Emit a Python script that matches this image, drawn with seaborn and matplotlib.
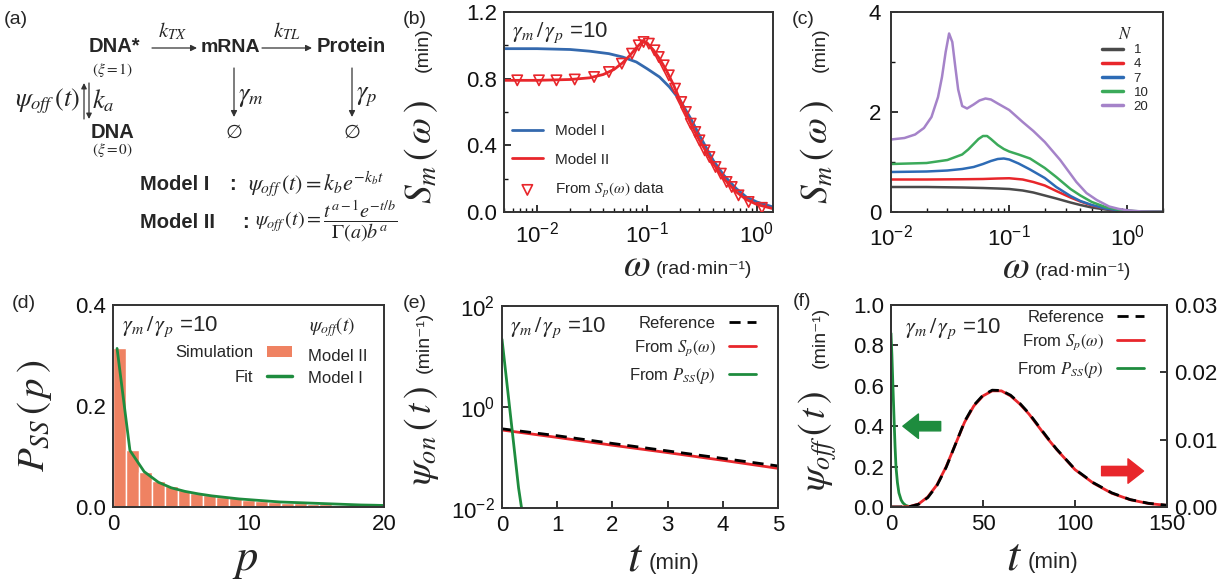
import numpy as np
import matplotlib
matplotlib.use("Agg")
import matplotlib.pyplot as plt
import matplotlib.patches as mpatches
import matplotlib.lines as mlines
from matplotlib.ticker import MultipleLocator, FixedLocator, NullLocator, LogLocator, NullFormatter, FormatStrFormatter
import seaborn as sns

sns.set_theme(style="ticks")
plt.rcParams["font.family"] = ["Liberation Sans", "DejaVu Sans"]
plt.rcParams["mathtext.fontset"] = "stix"

W, H = 1227, 588

# ---------------- data ----------------
# (b) S_m(omega), gamma_m/gamma_p = 10
w_model1 = [0.005, 0.01, 0.02, 0.03, 0.045, 0.06, 0.08, 0.1, 0.13, 0.16, 0.2, 0.25, 0.3, 0.4, 0.5, 0.65, 0.8, 1.0, 1.4]
s_model1 = [0.98, 0.98, 0.975, 0.965, 0.95, 0.93, 0.90, 0.86, 0.81, 0.75, 0.67, 0.56, 0.46, 0.31, 0.22, 0.14, 0.09, 0.06, 0.03]
w_model2 = [0.005, 0.01, 0.02, 0.03, 0.04, 0.05, 0.06, 0.07, 0.08, 0.09, 0.1, 0.115, 0.13, 0.15, 0.175, 0.2,
            0.25, 0.3, 0.4, 0.5, 0.65, 0.8, 1.0, 1.4]
s_model2 = [0.79, 0.79, 0.795, 0.805, 0.825, 0.855, 0.895, 0.94, 0.985, 1.02, 1.015, 0.97, 0.92, 0.85, 0.76, 0.67,
            0.53, 0.43, 0.29, 0.20, 0.12, 0.075, 0.045, 0.02]
w_data = [0.0066, 0.0104, 0.015, 0.022, 0.033, 0.045, 0.059, 0.073, 0.084, 0.093, 0.104, 0.117, 0.128, 0.142,
          0.158, 0.18, 0.205, 0.226, 0.25, 0.275, 0.30, 0.335, 0.37, 0.42, 0.47, 0.53, 0.59, 0.68, 0.84, 1.11]
s_data = [0.79, 0.79, 0.79, 0.795, 0.81, 0.84, 0.89, 0.95, 1.0, 1.02, 1.01, 0.97, 0.93, 0.88, 0.82, 0.74, 0.66,
          0.60, 0.53, 0.48, 0.43, 0.37, 0.33, 0.27, 0.23, 0.18, 0.15, 0.10, 0.06, 0.025]

# (c) S_m(omega) for several N
N_labels = ["1", "4", "7", "10", "20"]
w_n1 = [0.01, 0.02, 0.04, 0.06, 0.08, 0.1, 0.13, 0.16, 0.2, 0.25, 0.33, 0.4, 0.5, 0.65, 0.8, 1.0, 1.4, 2.0]
s_n1 = [0.50, 0.50, 0.49, 0.48, 0.47, 0.46, 0.43, 0.39, 0.33, 0.27, 0.19, 0.14, 0.09, 0.05, 0.03, 0.015, 0.005, 0.002]
s_n4 = [0.65, 0.65, 0.655, 0.66, 0.67, 0.675, 0.65, 0.60, 0.53, 0.42, 0.29, 0.21, 0.13, 0.07, 0.04, 0.02, 0.007, 0.002]
w_n7 = [0.01, 0.02, 0.03, 0.04, 0.05, 0.06, 0.07, 0.08, 0.09, 0.1, 0.12, 0.15, 0.2, 0.25, 0.33, 0.4, 0.5, 0.65,
        0.8, 1.0, 1.4, 2.0]
s_n7 = [0.80, 0.81, 0.83, 0.86, 0.90, 0.96, 1.02, 1.06, 1.07, 1.05, 0.97, 0.85, 0.68, 0.5, 0.32, 0.22, 0.14, 0.07,
        0.04, 0.02, 0.006, 0.002]
w_n10 = [0.01, 0.02, 0.03, 0.04, 0.045, 0.05, 0.055, 0.06, 0.065, 0.07, 0.08, 0.09, 0.1, 0.12, 0.15, 0.2, 0.25,
         0.33, 0.4, 0.5, 0.65, 0.8, 1.0, 1.4, 2.0]
s_n10 = [0.96, 0.98, 1.04, 1.15, 1.25, 1.36, 1.46, 1.52, 1.52, 1.46, 1.34, 1.26, 1.21, 1.15, 1.07, 0.88, 0.7,
         0.46, 0.33, 0.2, 0.1, 0.055, 0.025, 0.008, 0.002]
w_n20 = [0.01, 0.013, 0.016, 0.019, 0.022, 0.025, 0.027, 0.029, 0.031, 0.033, 0.035, 0.037, 0.04, 0.044, 0.05,
         0.056, 0.063, 0.07, 0.08, 0.1, 0.13, 0.16, 0.2, 0.27, 0.37, 0.45, 0.55, 0.7, 0.85, 1.0, 1.3, 2.0]
s_n20 = [1.45, 1.48, 1.55, 1.68, 1.9, 2.3, 2.7, 3.2, 3.57, 3.4, 2.9, 2.45, 2.12, 2.07, 2.15, 2.23, 2.27, 2.25,
         2.17, 2.04, 1.8, 1.62, 1.4, 1.04, 0.6, 0.38, 0.24, 0.11, 0.06, 0.035, 0.012, 0.002]

# (d) P_SS(p): simulation histogram and fit
p_sim = list(range(21))
P_sim = [0.314, 0.113, 0.070, 0.052, 0.041, 0.033, 0.027, 0.023, 0.020, 0.017, 0.014, 0.012, 0.010, 0.008,
         0.007, 0.006, 0.005, 0.004, 0.003, 0.003, 0.002]
p_fit = [0.3, 1.25, 2.3, 3.35, 4.3, 5.3, 6.3, 7.3, 8.3, 9.3, 10.3, 11.3, 12.3, 13.3, 14.3, 15.3, 16.3, 17.3,
         18.3, 19.3, 20.0]
P_fit = [0.314, 0.112, 0.070, 0.049, 0.038, 0.031, 0.026, 0.022, 0.019, 0.016, 0.014, 0.012, 0.010, 0.009,
         0.008, 0.007, 0.006, 0.005, 0.004, 0.0035, 0.003]

# (e) psi_on(t)
t_on = [0, 1, 2, 3, 4, 5]
on_ref = [0.37, 0.27, 0.19, 0.135, 0.096, 0.068]
on_sp = [0.35, 0.25, 0.175, 0.125, 0.088, 0.061]
t_on_pss = [0, 0.1, 0.2, 0.3, 0.38]
on_pss = [22, 2.3, 0.24, 0.025, 0.0065]

# (f) psi_off(t)
t_off = [0, 5, 10, 15, 20, 25, 30, 35, 40, 45, 50, 55, 60, 65, 70, 75, 80, 85, 90, 95, 100, 110, 120, 130, 140, 150]
off_ref = [0, 0, 0.00005, 0.0004, 0.0014, 0.0032, 0.0059, 0.0093, 0.0127, 0.0151, 0.0166, 0.01735, 0.0173,
           0.0166, 0.0154, 0.0139, 0.0121, 0.0103, 0.0086, 0.0071, 0.0056, 0.0036, 0.0021, 0.0011, 0.00055, 0.00026]
off_sp = [0, 0, 0.00006, 0.00045, 0.0015, 0.0033, 0.006, 0.0093, 0.0126, 0.015, 0.0165, 0.01725, 0.01725,
          0.0165, 0.0153, 0.0138, 0.012, 0.0102, 0.00855, 0.00705, 0.00555, 0.00354, 0.00204, 0.00108, 0.00051, 0.00024]
t_off_pss = [0, 0.5, 1.0, 1.5, 1.8, 2.2, 2.7, 3.5, 4.3, 5.5, 6.5, 8, 10, 12]
off_pss = [0.86, 0.75, 0.61, 0.48, 0.4, 0.3, 0.2, 0.12, 0.07, 0.035, 0.02, 0.008, 0.002, 0.0]

# colours
BLUE = "#3469AE"
RED = "#E8262B"
GREEN = "#1E8C3E"
SALMON = "#EF8262"
c_colors = ["#4A4A4A", "#E8262B", "#2D6BB5", "#3BAA5A", "#A583C9"]

fig = plt.figure(figsize=(W / 100, H / 100), dpi=100)
fig.patch.set_facecolor("white")


def box(l, t, r, b):
    return [l / W, 1 - b / H, (r - l) / W, (b - t) / H]


def style(ax):
    for sp in ax.spines.values():
        sp.set_linewidth(1.4)
        sp.set_color("#333333")
    ax.tick_params(which="both", direction="in", labelsize=16, colors="#111111", pad=5)
    ax.tick_params(which="major", length=5, width=1.2)
    ax.tick_params(which="minor", length=3, width=1.0)


def ylab(ax, x, yb, big, ys, small, fs=27):
    ax.text(x, yb, big, rotation=90, transform=ax.transAxes, ha="center", va="center", fontsize=fs)
    ax.text(x + 0.01, ys, small, rotation=90, transform=ax.transAxes, ha="center", va="center", fontsize=14)


def xlab(ax, x, y, big, small, fs=28, fs_small=14):
    ax.text(x, y, big, transform=ax.transAxes, ha="right", va="baseline", fontsize=fs)
    ax.text(x + 0.02, y + 0.01, small, transform=ax.transAxes, ha="left", va="baseline", fontsize=fs_small)


ratio = r"$\gamma_m\,/\,\gamma_p$ =10"

# ---------------- (b) ----------------
ax_b = fig.add_axes(box(504, 12, 773, 212))
ax_b.set_xscale("log")
sns.lineplot(x=w_model1, y=s_model1, ax=ax_b, color=BLUE, lw=2, label="Model I")
sns.lineplot(x=w_model2, y=s_model2, ax=ax_b, color=RED, lw=2, label="Model II")
sns.scatterplot(x=w_data, y=s_data, ax=ax_b, marker="v", s=55, color=RED, facecolors="none",
                edgecolor=RED, linewidth=1.2, label=r"From $S_p(\omega)$ data", zorder=3)
ax_b.set_xlim(0.005, 1.4)
ax_b.set_ylim(0, 1.2)
ax_b.yaxis.set_major_locator(MultipleLocator(0.4))
ax_b.yaxis.set_minor_locator(MultipleLocator(0.2))
ax_b.yaxis.set_major_formatter(FormatStrFormatter("%.1f"))
ax_b.xaxis.set_major_locator(LogLocator(base=10))
ax_b.xaxis.set_minor_locator(LogLocator(base=10, subs=np.arange(2, 10)))
ax_b.xaxis.set_minor_formatter(NullFormatter())
style(ax_b)
ax_b.tick_params(axis="x", pad=7)
ax_b.legend(loc="upper left", bbox_to_anchor=(0.03, 0.44), frameon=False, fontsize=11,
            handlelength=2.0, labelspacing=0.95, borderaxespad=0, borderpad=0)
ax_b.text(0.03, 0.895, ratio, transform=ax_b.transAxes, fontsize=16, va="center")
ylab(ax_b, -0.31, 0.30, r"$S_m\,(\,\omega\,)$", 0.81, "(min)")
xlab(ax_b, 0.545, -0.32, r"$\omega$", "(rad·min⁻¹)")

# ---------------- (c) ----------------
ax_c = fig.add_axes(box(891, 12, 1163, 212))
ax_c.set_xscale("log")
c_series = [(w_n1, s_n1), (w_n1, s_n4), (w_n7, s_n7), (w_n10, s_n10), (w_n20, s_n20)]
for (wx, sy), lab, col in zip(c_series, N_labels, c_colors):
    sns.lineplot(x=wx, y=sy, ax=ax_c, color=col, lw=1.8, label=lab)
ax_c.set_xlim(0.01, 2.0)
ax_c.set_ylim(0, 4)
ax_c.yaxis.set_major_locator(MultipleLocator(2))
ax_c.yaxis.set_minor_locator(MultipleLocator(1))
ax_c.xaxis.set_major_locator(LogLocator(base=10))
ax_c.xaxis.set_minor_locator(LogLocator(base=10, subs=np.arange(2, 10)))
ax_c.xaxis.set_minor_formatter(NullFormatter())
style(ax_c)
ax_c.tick_params(axis="x", pad=9)
ax_c.tick_params(axis="y", pad=7)
leg_c = ax_c.legend(loc="upper left", bbox_to_anchor=(0.775, 0.93), frameon=False, fontsize=9.5, title=r"$N$",
                    title_fontsize=12, handlelength=1.6, labelspacing=0.15, borderaxespad=0, borderpad=0)
for ln in leg_c.get_lines():
    ln.set_linewidth(2.5)
ylab(ax_c, -0.27, 0.30, r"$S_m\,(\,\omega\,)$", 0.81, "(min)")
xlab(ax_c, 0.51, -0.33, r"$\omega$", "(rad·min⁻¹)")

# ---------------- (d) ----------------
ax_d = fig.add_axes(box(113, 305, 384, 507))
sns.histplot(x=p_sim, weights=P_sim, bins=21, binrange=(0, 20), ax=ax_d, color=SALMON, alpha=1,
             edgecolor="white", linewidth=1.0)
sns.lineplot(x=p_fit, y=P_fit, ax=ax_d, color=GREEN, lw=2)
ax_d.set_xlabel("")
ax_d.set_ylabel("")
ax_d.set_xlim(0, 20)
ax_d.set_ylim(0, 0.4)
ax_d.xaxis.set_major_locator(MultipleLocator(10))
ax_d.yaxis.set_major_locator(MultipleLocator(0.2))
ax_d.yaxis.set_major_formatter(FormatStrFormatter("%.1f"))
style(ax_d)
h_d = [mpatches.Patch(facecolor=SALMON, edgecolor="none"), mlines.Line2D([], [], color=GREEN, lw=2.5)]
ax_d.legend(h_d, ["Simulation", "Fit"], loc="upper right", bbox_to_anchor=(0.66, 0.80), markerfirst=False,
            frameon=False, fontsize=12, handlelength=1.5, labelspacing=0.55, borderaxespad=0, borderpad=0)
ax_d.text(0.72, 0.745, "Model II", transform=ax_d.transAxes, fontsize=12, va="center")
ax_d.text(0.72, 0.635, "Model I", transform=ax_d.transAxes, fontsize=12, va="center")
ax_d.text(0.81, 0.89, r"$\psi_{off}(t)$", transform=ax_d.transAxes, fontsize=14, va="center", ha="center")
ax_d.text(0.035, 0.89, ratio, transform=ax_d.transAxes, fontsize=16, va="center")
ax_d.text(-0.29, 0.45, r"$P_{SS}\,(\,p\,)$", rotation=90, transform=ax_d.transAxes, ha="center",
          va="center", fontsize=28)
ax_d.text(0.487, -0.31, r"$p$", transform=ax_d.transAxes, ha="center", va="baseline", fontsize=32)

# ---------------- (e) ----------------
ax_e = fig.add_axes(box(502, 306, 778, 508))
ax_e.set_yscale("log")
sns.lineplot(x=t_on, y=on_sp, ax=ax_e, color=RED, lw=2, label=r"From $S_p(\omega)$")
sns.lineplot(x=t_on, y=on_ref, ax=ax_e, color="black", lw=2, linestyle=(0, (4, 2.5)), label="Reference")
sns.lineplot(x=t_on_pss, y=on_pss, ax=ax_e, color=GREEN, lw=2, label=r"From $P_{SS}(p)$")
ax_e.set_xlim(0, 5)
ax_e.set_ylim(1e-2, 1e2)
ax_e.yaxis.set_major_locator(FixedLocator([1e-2, 1e0, 1e2]))
ax_e.yaxis.set_minor_locator(NullLocator())
ax_e.xaxis.set_major_locator(MultipleLocator(1))
style(ax_e)
hh, ll = ax_e.get_legend_handles_labels()
order = [1, 0, 2]
ax_e.legend([hh[i] for i in order], [ll[i] for i in order], loc="upper right", bbox_to_anchor=(0.92, 0.95),
            markerfirst=False, frameon=False, fontsize=12, handlelength=1.6, labelspacing=0.45,
            borderaxespad=0, borderpad=0)
ax_e.text(0.03, 0.89, ratio, transform=ax_e.transAxes, fontsize=16, va="center")
ylab(ax_e, -0.29, 0.36, r"$\psi_{on}\,(\,t\,)$", 0.82, "(min⁻¹)")
xlab(ax_e, 0.51, -0.31, r"$t$", "(min)", fs=34, fs_small=16)

# ---------------- (f) ----------------
ax_f = fig.add_axes(box(891, 305, 1167, 507))
ax_f2 = ax_f.twinx()
sns.lineplot(x=t_off_pss, y=off_pss, ax=ax_f, color=GREEN, lw=2, legend=False)
sns.lineplot(x=t_off, y=off_sp, ax=ax_f2, color=RED, lw=2, label=r"From $S_p(\omega)$")
sns.lineplot(x=t_off, y=off_ref, ax=ax_f2, color="black", lw=2, linestyle=(0, (4, 2.5)), label="Reference")
ax_f.set_xlim(0, 150)
ax_f.set_ylim(0, 1.0)
ax_f2.set_ylim(0, 0.03)
ax_f.xaxis.set_major_locator(MultipleLocator(50))
ax_f.yaxis.set_major_locator(MultipleLocator(0.2))
ax_f.yaxis.set_major_formatter(FormatStrFormatter("%.1f"))
ax_f2.yaxis.set_major_locator(MultipleLocator(0.01))
ax_f2.yaxis.set_major_formatter(FormatStrFormatter("%.2f"))
style(ax_f)
style(ax_f2)
ax_f.tick_params(right=False)
ax_f2.tick_params(left=False, right=True)
hh, ll = ax_f2.get_legend_handles_labels()
h_f = [hh[1], hh[0], mlines.Line2D([], [], color=GREEN, lw=2)]
l_f = [ll[1], ll[0], r"From $P_{SS}(p)$"]
ax_f2.legend(h_f, l_f, loc="upper right", bbox_to_anchor=(0.917, 0.975), markerfirst=False, frameon=False,
             fontsize=12, handlelength=1.6, labelspacing=0.45, borderaxespad=0, borderpad=0)
ax_f.text(0.05, 0.88, ratio, transform=ax_f.transAxes, fontsize=16, va="center")
arrow_style = "simple,head_length=0.7,head_width=1.1,tail_width=0.42"
ax_f.annotate("", xy=(0.043, 0.40), xytext=(0.18, 0.40), xycoords="axes fraction",
              arrowprops=dict(arrowstyle=arrow_style, color=GREEN, mutation_scale=16, shrinkA=0, shrinkB=0))
ax_f2.annotate("", xy=(0.915, 0.178), xytext=(0.763, 0.178), xycoords="axes fraction",
               arrowprops=dict(arrowstyle=arrow_style, color=RED, mutation_scale=16, shrinkA=0, shrinkB=0))
ylab(ax_f, -0.265, 0.33, r"$\psi_{off}\,(\,t\,)$", 0.84, "(min⁻¹)")
xlab(ax_f, 0.475, -0.31, r"$t$", "(min)", fs=34, fs_small=16)

# ---------------- (a) reaction scheme ----------------


def ftext(x, y, s, **kw):
    fig.text(x / W, 1 - y / H, s, **kw)


def farrow(x0, y0, x1, y1, ms=9):
    fig.add_artist(mpatches.FancyArrowPatch((x0 / W, 1 - y0 / H), (x1 / W, 1 - y1 / H),
                                            transform=fig.transFigure, arrowstyle="-|>", mutation_scale=ms,
                                            lw=0.9, color="#333333", shrinkA=0, shrinkB=0))


ftext(4, 20, "(a)", fontsize=14, va="center")
ftext(403, 19, "(b)", fontsize=14, va="center")
ftext(792, 19, "(c)", fontsize=14, va="center")
ftext(12, 303, "(d)", fontsize=14, va="center")
ftext(403, 303, "(e)", fontsize=14, va="center")
ftext(793, 301, "(f)", fontsize=14, va="center")

ftext(114, 47, "DNA*", fontsize=14.5, weight="bold", ha="center", va="center")
ftext(230, 47, "mRNA", fontsize=14, weight="bold", ha="center", va="center")
ftext(351, 47, "Protein", fontsize=14.5, weight="bold", ha="center", va="center")
farrow(152, 48, 197, 48)
farrow(262, 48, 312, 48)
ftext(172, 31, r"$k_{TX}$", fontsize=15, ha="center", va="center")
ftext(287, 31, r"$k_{TL}$", fontsize=15, ha="center", va="center")
ftext(112, 70, r"$(\xi=1)$", fontsize=11, ha="center", va="center")
ftext(80, 101, r"$\psi_{off}\,(t)$", fontsize=19, ha="right", va="center")
farrow(84, 119, 84, 83, ms=8)
farrow(89, 83, 89, 119, ms=8)
ftext(92, 101, r"$k_a$", fontsize=19, ha="left", va="center")
ftext(112, 132, "DNA", fontsize=14.5, weight="bold", ha="center", va="center")
ftext(112, 150, r"$(\xi=0)$", fontsize=11, ha="center", va="center")
farrow(234, 68, 234, 117)
farrow(352, 68, 352, 117)
ftext(238, 97, r"$\gamma_m$", fontsize=19, ha="left", va="center")
ftext(356, 97, r"$\gamma_p$", fontsize=19, ha="left", va="center")
ftext(234, 133, "∅", fontsize=14, ha="center", va="center")
ftext(352, 133, "∅", fontsize=14, ha="center", va="center")
ftext(140, 185, "Model I", fontsize=14.5, weight="bold", ha="left", va="center")
ftext(233, 185, ":", fontsize=14.5, weight="bold", ha="center", va="center")
ftext(248, 184, r"$\psi_{off}\,(t)=k_b e^{-k_b t}$", fontsize=16, ha="left", va="center")
ftext(140, 222, "Model II", fontsize=14.5, weight="bold", ha="left", va="center")
ftext(245, 222, ":", fontsize=14.5, weight="bold", ha="center", va="center")
ftext(255, 221, r"$\psi_{off}\,(t)=\dfrac{t^{a-1}e^{-t/b}}{\Gamma(a)b^a}$", fontsize=14.5, ha="left",
      va="center")

fig.savefig("out.png", dpi=100, facecolor="white")
